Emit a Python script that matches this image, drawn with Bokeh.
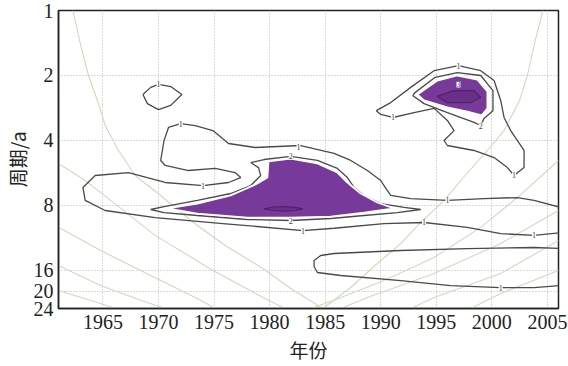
from bokeh.plotting import figure
from bokeh.models import FixedTicker, LabelSet, ColumnDataSource
from bokeh.embed import file_html
from bokeh.resources import INLINE

# ---- axes ----
x_ticks = [1965, 1970, 1975, 1980, 1985, 1990, 1995, 2000, 2005]
y_ticks = [1, 2, 4, 8, 16, 20, 24]
y_tick_labels = ["1", "2", "4", "8", "16", "20", "24"]

# ---- cone-of-influence style curves (light green) ----
coi_left_year = [1962.3, 1963.0, 1963.7, 1964.5, 1965.2, 1966.4, 1967.9, 1970.2, 1972.9, 1976.0, 1979.4, 1981.9, 1984.8]
coi_left_period = [1.0, 1.45, 2.0, 2.61, 3.41, 4.45, 5.81, 7.19, 9.39, 12.26, 15.67, 19.4, 24.0]
coi_right_year = [2004.6, 2003.9, 2003.2, 2002.5, 2001.1, 1999.6, 1997.6, 1995.7, 1993.6, 1991.8, 1989.5, 1987.3, 1984.8]
coi_right_period = [1.0, 1.38, 2.0, 2.61, 3.60, 4.45, 5.81, 7.58, 9.59, 12.0, 15.17, 19.19, 24.0]
g_l2_year = [1961.0, 1963.4, 1965.7, 1969.7, 1974.9, 1979.9, 1981.4]
g_l2_period = [5.11, 6.13, 7.58, 11.0, 16.0, 22.0, 24.0]
g_l3_year = [1961.0, 1964.8, 1969.3, 1973.8, 1975.1]
g_l3_period = [10.1, 12.93, 16.88, 22.0, 24.0]
g_l4_year = [1961.0, 1964.8, 1968.4, 1970.6]
g_l4_period = [15.17, 18.79, 22.0, 24.0]
g_l5_year = [1961.0, 1964.8, 1966.1]
g_l5_period = [19.8, 22.75, 24.0]
g_r2_year = [2006.0, 2002.3, 1999.0, 1994.8, 1990.3, 1985.8, 1983.7]
g_r2_period = [4.95, 7.35, 10.1, 13.93, 17.81, 22.0, 24.0]
g_r3_year = [2006.0, 2000.8, 1994.8, 1988.8, 1986.4]
g_r3_period = [8.44, 12.0, 16.52, 21.35, 24.0]
g_r4_year = [2006.0, 2000.8, 1994.8, 1992.7]
g_r4_period = [11.62, 16.52, 21.35, 24.0]
g_r5_year = [2006.0, 2000.8, 1998.1]
g_r5_period = [16.0, 20.45, 24.0]

# ---- contour level 1 ----
loop1_year = [1968.6, 1969.3, 1970.0, 1971.1, 1972.1, 1971.1, 1970.0, 1969.0, 1968.6]
loop1_period = [2.45, 2.27, 2.20, 2.25, 2.45, 2.75, 2.88, 2.70, 2.45]
outer1_year = [2006.2, 2003.8, 2002.3, 1999.3, 1996.0, 1992.7, 1990.9, 1990.4, 1990.0, 1988.8, 1987.3,
               1985.8, 1982.8, 1978.7, 1976.3, 1974.9, 1973.3, 1972.0, 1970.9, 1970.5, 1970.2, 1970.6,
               1972.7, 1975.1, 1976.9, 1977.4, 1976.3, 1974.0, 1970.6, 1967.3, 1964.3, 1963.2, 1963.4,
               1965.2, 1969.7, 1975.8, 1983.0, 1985.8, 1990.3, 1993.9, 1997.8, 2000.8, 2003.8, 2006.2]
outer1_period = [8.17, 7.58, 7.35, 7.43, 7.58, 7.43, 7.19, 6.60, 6.13, 5.51, 4.95,
                 4.59, 4.22, 4.31, 4.13, 3.60, 3.41, 3.34, 3.48, 4.00, 4.95, 5.22,
                 5.51, 5.39, 5.63, 5.94, 6.26, 6.47, 6.26, 5.63, 5.81, 6.60, 7.58,
                 8.44, 9.10, 9.70, 10.45, 10.2, 9.70, 9.59, 10.1, 10.8, 11.0, 10.7]
top1_year = [1989.6, 1990.9, 1992.7, 1994.8, 1997.0, 1999.0, 2000.2, 2000.8, 2001.1, 2001.7, 2002.9,
             2002.9, 2002.0, 2001.4, 2000.2, 1998.4, 1996.0, 1995.7, 1996.6, 1996.0, 1994.8, 1993.0,
             1991.1, 1990.0, 1989.6]
top1_period = [2.91, 2.67, 2.27, 1.90, 1.80, 1.90, 2.11, 2.61, 3.13, 3.60, 4.45,
               5.34, 5.81, 5.34, 4.80, 4.45, 4.22, 4.00, 3.60, 3.23, 2.84, 2.97,
               3.13, 3.03, 2.91]
low1_year = [2006.2, 2003.8, 1997.8, 1991.8, 1985.8, 1984.6, 1984.0, 1984.0, 1984.3, 1986.4,
             1991.8, 1996.3, 2000.8, 2003.8, 2006.2]
low1_period = [12.66, 12.52, 12.66, 12.93, 13.35, 13.64, 14.39, 15.34, 16.35, 16.88,
               17.81, 18.79, 19.19, 19.19, 18.79]

# ---- contour level 2 ----
lvl2a_year = [1978.3, 1979.5, 1981.9, 1984.3, 1986.1, 1987.0, 1987.6, 1988.5, 1990.0, 1992.1, 1993.6,
              1991.5, 1988.5, 1985.5, 1981.9, 1978.0, 1973.5, 1970.5, 1969.3, 1970.5, 1973.5, 1976.5,
              1978.3, 1979.2, 1979.0, 1978.3]
lvl2a_period = [5.06, 4.90, 4.74, 4.95, 5.39, 5.94, 6.60, 7.19, 7.84, 8.17, 8.35,
                8.63, 8.90, 9.19, 9.39, 9.29, 8.90, 8.63, 8.35, 8.09, 7.58, 7.04,
                6.47, 5.81, 5.34, 5.06]
lvl2b_year = [1993.0, 1994.9, 1996.9, 1999.0, 2000.1, 2000.1, 1999.3, 1999.0, 1998.4, 1996.0, 1993.9, 1992.9, 1993.0]
lvl2b_period = [2.42, 2.04, 1.94, 2.00, 2.35, 2.91, 3.16, 3.41, 3.30, 2.97, 2.70, 2.48, 2.42]

# ---- significant regions (purple) ----
sig_a_year = [1970.8, 1973.5, 1976.5, 1978.9, 1979.8, 1979.9, 1981.9, 1984.3, 1986.1, 1987.0, 1988.2,
              1989.7, 1991.2, 1988.5, 1985.5, 1981.9, 1978.0, 1973.5]
sig_a_period = [8.26, 7.84, 7.19, 6.33, 5.94, 5.00, 4.85, 5.11, 5.63, 6.26, 7.04,
                7.75, 8.26, 8.63, 9.00, 9.10, 9.10, 8.72]
sig_b_year = [1993.3, 1995.1, 1996.9, 1998.7, 1999.6, 1999.6, 1999.1, 1997.8, 1996.0, 1993.9]
sig_b_period = [2.45, 2.11, 2.00, 2.09, 2.37, 2.84, 3.06, 2.94, 2.81, 2.61]
core_a_year = [1979.5, 1980.3, 1981.3, 1982.3, 1983.0, 1982.3, 1981.3, 1980.3]
core_a_period = [8.30, 8.13, 8.09, 8.17, 8.30, 8.44, 8.49, 8.44]
core_b_year = [1995.1, 1996.6, 1998.4, 1999.0, 1998.1, 1996.0]
core_b_period = [2.50, 2.35, 2.35, 2.53, 2.67, 2.67]

# ---- contour labels ----
lab_year = [1970.0, 1972.0, 1982.6, 1974.0, 1996.0, 1983.0, 1993.9, 2003.8, 1997.0, 1991.1, 2002.0, 2000.8,
            1981.9, 1981.9, 1999.0, 1997.0]
lab_period = [2.20, 3.34, 4.27, 6.47, 7.58, 10.45, 9.59, 11.0, 1.80, 3.13, 5.81, 19.19,
              4.74, 9.39, 3.41, 2.20]
lab_text = ["1"] * 12 + ["2", "2", "2", "3"]

GREEN = "#c9ddbd"
LINE = "#4a4a4a"
PURPLE = "#77399a"
DARKP = "#4e2268"
SERIF = "Liberation Serif"
CJK = "Noto Sans CJK SC"

p = figure(width=568, height=366, x_range=(1961, 2006), y_range=(24, 1), y_axis_type="log",
           output_backend="svg", toolbar_location=None,
           min_border_left=58, min_border_right=10, min_border_top=10, min_border_bottom=58)

p.background_fill_color = "white"
p.border_fill_color = "white"
p.outline_line_color = "#222222"
p.outline_line_width = 1.5

p.xaxis.ticker = FixedTicker(ticks=x_ticks)
p.yaxis.ticker = FixedTicker(ticks=y_ticks)
p.yaxis.major_label_overrides = {t: l for t, l in zip(y_ticks, y_tick_labels)}
p.xaxis.major_label_overrides = {t: str(t) for t in x_ticks}
for ax in (p.xaxis, p.yaxis):
    ax.major_label_text_font = SERIF
    ax.major_label_text_font_size = "20px"
    ax.major_label_text_color = "#222222"
    ax.major_tick_out = 0
    ax.major_tick_in = 0
    ax.minor_tick_line_color = None
    ax.axis_line_color = "#222222"
    ax.axis_line_width = 1.5
    ax.axis_label_text_font = CJK
    ax.axis_label_text_font_size = "19px"
    ax.axis_label_text_font_style = "normal"
    ax.axis_label_text_color = "#222222"
p.xaxis.major_label_standoff = 6
p.yaxis.major_label_standoff = 5
p.xaxis.axis_label = "年份"
p.yaxis.axis_label = "周期/a"
p.xaxis.axis_label_standoff = 4
p.yaxis.axis_label_standoff = 0

p.xgrid.ticker = FixedTicker(ticks=x_ticks)
p.ygrid.ticker = FixedTicker(ticks=y_ticks)
for g in (p.xgrid, p.ygrid):
    g.grid_line_color = "#b4b4b4"
    g.grid_line_dash = "1 2"
    g.grid_line_width = 1

# green curves
greens = [(coi_left_year, coi_left_period), (coi_right_year, coi_right_period),
          (g_l2_year, g_l2_period), (g_l3_year, g_l3_period), (g_l4_year, g_l4_period),
          (g_l5_year, g_l5_period), (g_r2_year, g_r2_period), (g_r3_year, g_r3_period),
          (g_r4_year, g_r4_period), (g_r5_year, g_r5_period)]
p.multi_line([g[0] for g in greens], [g[1] for g in greens], line_color=GREEN, line_width=1.1)

# level-1 contours
for xs, ys in [(loop1_year, loop1_period), (outer1_year, outer1_period),
               (top1_year, top1_period), (low1_year, low1_period)]:
    p.line(xs, ys, line_color=LINE, line_width=1.3)

# level-2 contours
for xs, ys in [(lvl2a_year, lvl2a_period), (lvl2b_year, lvl2b_period)]:
    p.line(xs, ys, line_color=LINE, line_width=1.3)

# significant regions
for xs, ys in [(sig_a_year, sig_a_period), (sig_b_year, sig_b_period)]:
    p.patch(xs, ys, fill_color=PURPLE, line_color="white", line_width=1.8)
for xs, ys in [(core_a_year, core_a_period), (core_b_year, core_b_period)]:
    p.patch(xs, ys, fill_color="#6a3088", line_color=DARKP, line_width=1.2)

src = ColumnDataSource(dict(x=lab_year, y=lab_period, t=lab_text))
p.add_layout(LabelSet(x="x", y="y", text="t", source=src, text_font=SERIF, text_font_size="8px",
                      text_color="#444444", text_align="center", text_baseline="middle",
                      background_fill_color="white"))

open("out.html", "w").write(file_html(p, INLINE))
